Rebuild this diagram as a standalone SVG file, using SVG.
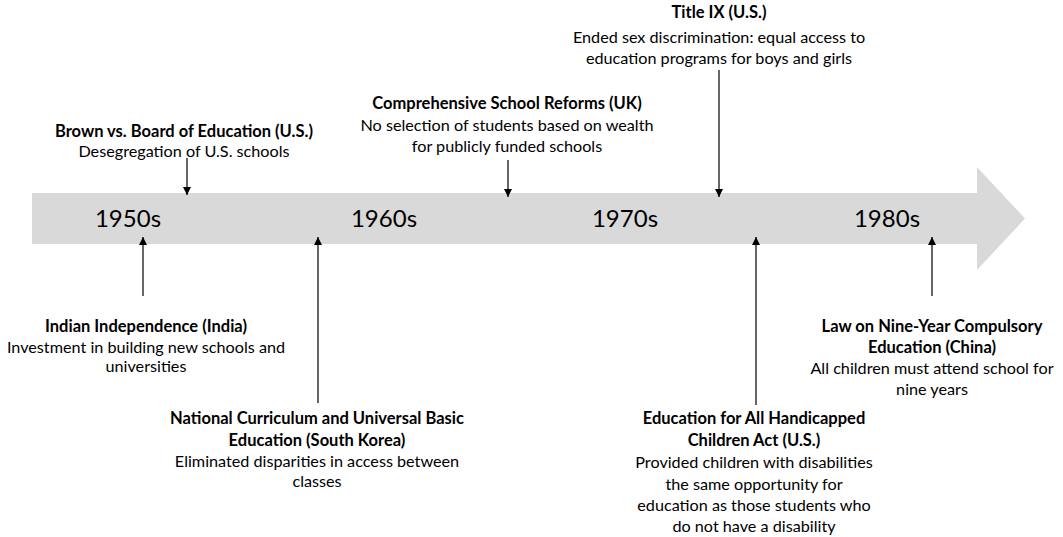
<svg xmlns="http://www.w3.org/2000/svg" width="1063" height="537" viewBox="0 0 1063 537">
<defs>
<marker id="ah" viewBox="0 0 10 10" refX="10" refY="5" markerWidth="8" markerHeight="8" markerUnits="userSpaceOnUse" orient="auto">
<path d="M0,0 L10,5 L0,10 Z" fill="#000"/>
</marker>
</defs>
<style>
text{font-family:Lato,"Open Sans","Liberation Sans",sans-serif;fill:#000;text-anchor:middle}
.b{font-weight:bold;font-size:16.5px}
.n{font-size:16.2px}
.yr{font-size:24px}
.c{stroke:#000;stroke-width:1.2;fill:none;marker-end:url(#ah)}
</style>
<g id="timeline">
<path d="M32,193 L977,193 L977,167 L1025,218.5 L977,270 L977,244 L32,244 Z" fill="#d9d9d9"/>
<text class="yr" x="128" y="227">1950s</text>
<text class="yr" x="384" y="227">1960s</text>
<text class="yr" x="625" y="227">1970s</text>
<text class="yr" x="887" y="227">1980s</text>
</g>
<g id="connectors">
<line class="c" x1="187" y1="158" x2="187" y2="195"/>
<line class="c" x1="508" y1="160" x2="508" y2="197"/>
<line class="c" x1="719" y1="70" x2="719" y2="197"/>
<line class="c" x1="143" y1="296" x2="143" y2="237"/>
<line class="c" x1="318" y1="403" x2="318" y2="237"/>
<line class="c" x1="756" y1="405" x2="756" y2="237"/>
<line class="c" x1="932" y1="296" x2="932" y2="237"/>
</g>
<g id="brown">
<text class="b" x="184" y="137">Brown vs. Board of Education (U.S.)</text>
<text class="n" x="184" y="157">Desegregation of U.S. schools</text>
</g>
<g id="comprehensive">
<text class="b" x="507" y="109">Comprehensive School Reforms (UK)</text>
<text class="n" x="507" y="131">No selection of students based on wealth</text>
<text class="n" x="507" y="152">for publicly funded schools</text>
</g>
<g id="titleix">
<text class="b" x="719" y="18">Title IX (U.S.)</text>
<text class="n" x="719" y="43">Ended sex discrimination: equal access to</text>
<text class="n" x="719" y="64">education programs for boys and girls</text>
</g>
<g id="india">
<text class="b" x="146" y="332">Indian Independence (India)</text>
<text class="n" x="146" y="353">Investment in building new schools and</text>
<text class="n" x="146" y="372">universities</text>
</g>
<g id="korea">
<text class="b" x="317" y="424">National Curriculum and Universal Basic</text>
<text class="b" x="317" y="446">Education (South Korea)</text>
<text class="n" x="317" y="467">Eliminated disparities in access between</text>
<text class="n" x="317" y="487">classes</text>
</g>
<g id="handicapped">
<text class="b" x="754" y="424">Education for All Handicapped</text>
<text class="b" x="754" y="446">Children Act (U.S.)</text>
<text class="n" x="754" y="468">Provided children with disabilities</text>
<text class="n" x="754" y="490">the same opportunity for</text>
<text class="n" x="754" y="511">education as those students who</text>
<text class="n" x="754" y="532">do not have a disability</text>
</g>
<g id="china">
<text class="b" x="932" y="332">Law on Nine-Year Compulsory</text>
<text class="b" x="932" y="353">Education (China)</text>
<text class="n" x="932" y="374">All children must attend school for</text>
<text class="n" x="932" y="395">nine years</text>
</g>
</svg>
